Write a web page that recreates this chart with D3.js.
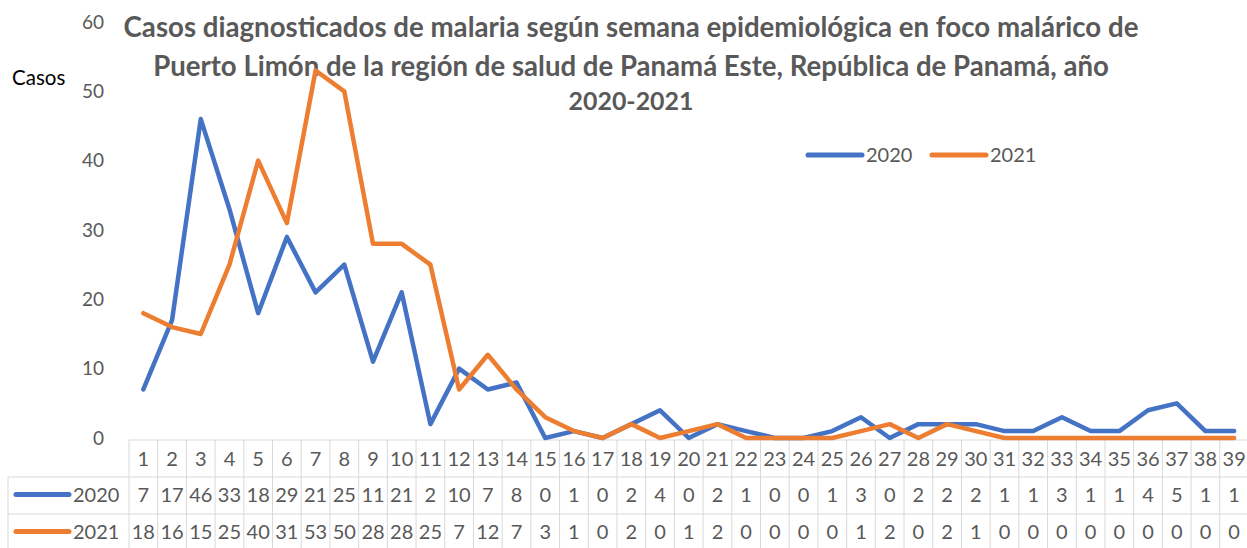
<!DOCTYPE html>
<html><head><meta charset="utf-8">
<script src="https://cdn.jsdelivr.net/npm/d3@7"></script>
<style>body{margin:0;background:#fff;overflow:hidden}</style>
</head><body>
<svg id="c" width="1247" height="548"></svg>
<script>
const weeks = d3.range(1, 40).map(String);
const series2020 = [7,17,46,33,18,29,21,25,11,21,2,10,7,8,0,1,0,2,4,0,2,1,0,0,1,3,0,2,2,2,1,1,3,1,1,4,5,1,1];
const series2021 = [18,16,15,25,40,31,53,50,28,28,25,7,12,7,3,1,0,2,0,1,2,0,0,0,0,1,2,0,2,1,0,0,0,0,0,0,0,0,0];
const seriesNames = ["2020", "2021"];
const seriesColors = ["#4472C4", "#ED7D31"];
const yTicks = [0,10,20,30,40,50,60];
const titleLines = [
  "Casos diagnosticados de malaria según semana epidemiológica en foco malárico de",
  "Puerto Limón de la región de salud de Panamá Este, República de Panamá, año",
  "2020-2021"
];
const yLabel = "Casos";

(function () {
const FONT = "Lato, 'Open Sans', sans-serif";
const FS = "20px";
const svg = d3.select("#c");
const pLeft = 129, pRight = 1248.5, pTop = 22, pBottom = 438;
const x = d3.scaleBand().domain(weeks).range([pLeft, pRight]);
const y = d3.scaleLinear().domain([0, 60]).range([pBottom, pTop]);

// y axis labels
const yAxis = d3.axisLeft(y).tickValues(yTicks).tickSize(0).tickPadding(0);
const ya = svg.append("g").attr("transform", "translate(104,0)").call(yAxis);
ya.select(".domain").remove();
ya.selectAll("text").attr("fill", "#595959").style("font-family", FONT).style("font-size", "19px");

// y label
svg.append("text").attr("x", 12).attr("y", 85).text(yLabel)
  .attr("fill", "#000").style("font-family", FONT).style("font-size", "20.5px");

// title
const titleY = [37, 76, 110];
const titleW = [1015, 956, 125];
titleLines.forEach((t, i) => {
  const tx = svg.append("text").attr("x", 631).attr("y", titleY[i]).attr("text-anchor", "middle")
    .attr("fill", "#595959").style("font-family", FONT).style("font-weight", "bold").style("font-size", "21px").text(t);
  const w = tx.node().getComputedTextLength();
  tx.style("font-size", (21 * titleW[i] / w).toFixed(2) + "px");
});

// data table
const grid = "#d9d9d9";
const rowTop = 440, rowH = 37;
const tg = svg.append("g");
tg.append("line").attr("x1", pLeft).attr("x2", 1247).attr("y1", rowTop).attr("y2", rowTop).attr("stroke", grid);
[1, 2].forEach(r => tg.append("line").attr("x1", 8).attr("x2", 1247)
  .attr("y1", rowTop + r * rowH).attr("y2", rowTop + r * rowH).attr("stroke", grid));
weeks.forEach(w => tg.append("line").attr("x1", x(w)).attr("x2", x(w)).attr("y1", rowTop).attr("y2", 548).attr("stroke", grid));
tg.append("line").attr("x1", 8).attr("x2", 8).attr("y1", rowTop + rowH).attr("y2", 548).attr("stroke", grid);
weeks.forEach(w => tg.append("text").attr("x", x(w) + x.bandwidth() / 2).attr("y", rowTop + rowH / 2 + 7)
  .attr("text-anchor", "middle").attr("fill", "#595959").style("font-family", FONT).style("font-size", FS).text(w));
[series2020, series2021].forEach((s, si) => {
  const cy = rowTop + rowH * (si + 1) + rowH / 2 - 1;
  tg.append("line").attr("x1", 16).attr("x2", 69).attr("y1", cy).attr("y2", cy)
    .attr("stroke", seriesColors[si]).attr("stroke-width", 5).attr("stroke-linecap", "round");
  tg.append("text").attr("x", 73).attr("y", cy + 7).attr("fill", "#595959").style("font-family", FONT).style("font-size", FS).text(seriesNames[si]);
  s.forEach((v, i) => tg.append("text").attr("x", x(weeks[i]) + x.bandwidth() / 2).attr("y", cy + 7)
    .attr("text-anchor", "middle").attr("fill", "#595959").style("font-family", FONT).style("font-size", FS).text(v));
});

// lines
const line = d3.line().x((d, i) => x(weeks[i]) + x.bandwidth() / 2).y(d => y(d));
[series2020, series2021].forEach((s, si) => {
  svg.append("path").datum(s).attr("d", line).attr("fill", "none")
    .attr("stroke", seriesColors[si]).attr("stroke-width", 4.5).attr("stroke-linejoin", "round").attr("stroke-linecap", "round");
});

// legend
const lg = svg.append("g");
[[808, 866], [932, 990]].forEach(([lx, tx], i) => {
  lg.append("line").attr("x1", lx).attr("x2", lx + 54).attr("y1", 155).attr("y2", 155)
    .attr("stroke", seriesColors[i]).attr("stroke-width", 5).attr("stroke-linecap", "round");
  lg.append("text").attr("x", tx).attr("y", 162).attr("fill", "#595959").style("font-family", FONT).style("font-size", FS).text(seriesNames[i]);
});
})();
</script>
</body></html>
